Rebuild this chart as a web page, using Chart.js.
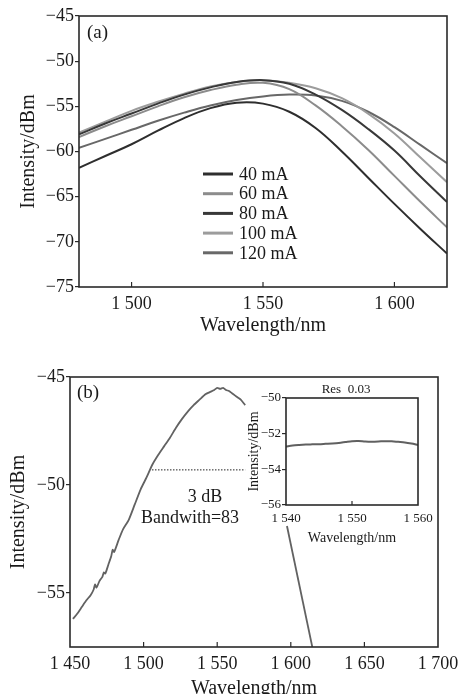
<!DOCTYPE html>
<html>
<head>
<meta charset="utf-8">
<script src="https://cdn.jsdelivr.net/npm/chart.js@4.4.1/dist/chart.umd.min.js"></script>
<style>
  html, body { margin: 0; padding: 0; background: #fff; overflow: hidden; }
  #wrap { position: relative; width: 460px; height: 694px; }
  canvas { position: absolute; left: 0; }
</style>
</head>
<body>
<div id="wrap">
  <canvas id="chartA" width="460" height="340" style="top:0"></canvas>
  <canvas id="chartB" width="460" height="364" style="top:340px"></canvas>
  <canvas id="inset" width="230" height="190" style="left:230px;top:370px"></canvas>
</div>
<script>
// (a) spectra for each drive current
var aWave   = [1480, 1490, 1500, 1510, 1520, 1530, 1540, 1550, 1560, 1570, 1580, 1590, 1600, 1610, 1620];
var a40mA   = [-61.8, -60.5, -59.2, -57.7, -56.3, -55.2, -54.6, -54.7, -55.6, -57.4, -60.0, -62.9, -65.8, -68.6, -71.3];
var a60mA   = [-58.4, -57.2, -56.1, -55.0, -54.0, -53.2, -52.6, -52.4, -53.1, -54.9, -57.2, -59.8, -62.7, -65.6, -68.4];
var a80mA   = [-58.1, -56.9, -55.8, -54.7, -53.7, -52.9, -52.3, -52.1, -52.5, -53.7, -55.4, -57.5, -59.9, -62.8, -65.6];
var a100mA  = [-57.9, -56.7, -55.5, -54.5, -53.6, -52.8, -52.3, -52.1, -52.4, -53.0, -54.1, -55.8, -58.0, -60.7, -63.4];
var a120mA  = [-59.6, -58.6, -57.6, -56.6, -55.7, -54.9, -54.3, -53.9, -53.7, -53.8, -54.4, -55.6, -57.3, -59.3, -61.3];
var aLabels = ['40 mA', '60 mA', '80 mA', '100 mA', '120 mA'];
var aXTicks = [1500, 1550, 1600];
var aYTicks = [-75, -70, -65, -60, -55, -50, -45];

// (b) broadband spectrum
var bWave  = [1452, 1455, 1458, 1461, 1464, 1466, 1467, 1468, 1470, 1472, 1473, 1474, 1476, 1478, 1479, 1480,
              1483, 1486, 1490, 1494, 1498, 1502, 1506, 1510, 1514, 1518, 1522, 1526, 1530, 1534, 1538, 1542,
              1545, 1548, 1550, 1552, 1554, 1556, 1558, 1560, 1562, 1564, 1566, 1569];
var bPower = [-56.2, -55.95, -55.65, -55.35, -55.1, -54.85, -54.6, -54.75, -54.45, -54.25, -54.05, -54.1, -53.7, -53.3, -53.0, -53.1,
              -52.55, -52.05, -51.6, -50.9, -50.2, -49.65, -49.05, -48.6, -48.2, -47.8, -47.35, -46.95, -46.6, -46.3, -46.05, -45.8,
              -45.7, -45.6, -45.5, -45.55, -45.5, -45.6, -45.65, -45.75, -45.85, -45.95, -46.05, -46.3];
var bTailWave  = [1597.4, 1614.6];
var bTailPower = [-51.9, -57.5];
var bDipWave   = [1505.7, 1569];
var bDipPower  = [-49.3, -49.3];
var bXTicks = [1450, 1500, 1550, 1600, 1650, 1700];
var bYTicks = [-55, -50, -45];

// inset, Res 0.03
var insetWave  = [1540, 1541, 1542, 1543, 1544, 1545, 1546, 1547, 1548, 1549, 1550, 1551, 1552, 1553, 1554, 1555, 1556, 1557, 1558, 1559, 1560];
var insetPower = [-52.72, -52.66, -52.63, -52.61, -52.6, -52.59, -52.57, -52.55, -52.52, -52.47, -52.42, -52.41, -52.44, -52.45, -52.44, -52.42, -52.43, -52.46, -52.49, -52.55, -52.63];
var insetXTicks = [1540, 1550, 1560];
var insetYTicks = [-56, -54, -52, -50];

var serif = "'Liberation Serif', 'Times New Roman', serif";
var ink = '#1a1a1a';

function fmt(v) {
  var s = Math.abs(v).toString();
  if (s.length > 3) s = s.slice(0, s.length - 3) + ' ' + s.slice(-3);
  return (v < 0 ? '\u2212' : '') + s;
}
function pts(xs, ys) {
  return xs.map(function (x, i) { return {x: x, y: ys[i]}; });
}

// box round the plot and inward ticks on the x axis
var frame = {
  id: 'frame',
  afterDatasetsDraw: function (chart, args, opts) {
    var ctx = chart.ctx, a = chart.chartArea, sx = chart.scales.x;
    ctx.save();
    ctx.strokeStyle = '#2a2a2a';
    ctx.lineWidth = opts.width;
    ctx.strokeRect(a.left, a.top, a.right - a.left, a.bottom - a.top);
    ctx.lineWidth = 1.2;
    sx.ticks.forEach(function (t) {
      var px = sx.getPixelForValue(t.value);
      if (px > a.left + 2 && px < a.right - 2) {
        ctx.beginPath();
        ctx.moveTo(px, a.bottom);
        ctx.lineTo(px, a.bottom - opts.tick);
        ctx.stroke();
      }
    });
    ctx.restore();
  }
};

// free text, offsets from the chart area corner
var notes = {
  id: 'notes',
  afterDraw: function (chart, args, opts) {
    var ctx = chart.ctx, a = chart.chartArea;
    ctx.save();
    ctx.fillStyle = ink;
    ctx.textBaseline = 'middle';
    opts.items.forEach(function (n) {
      ctx.font = n.size + 'px ' + serif;
      ctx.textAlign = n.align;
      ctx.fillText(n.text, a.left + n.dx, a.top + n.dy);
    });
    ctx.restore();
  }
};

var legendA = {
  id: 'legendA',
  afterDraw: function (chart) {
    var ctx = chart.ctx, a = chart.chartArea;
    ctx.save();
    ctx.font = '18px ' + serif;
    ctx.textBaseline = 'middle';
    ctx.textAlign = 'left';
    chart.data.datasets.forEach(function (ds, i) {
      var y = a.top + 158 + i * 19.7;
      ctx.strokeStyle = ds.borderColor;
      ctx.lineWidth = 3;
      ctx.beginPath();
      ctx.moveTo(a.left + 124, y);
      ctx.lineTo(a.left + 154, y);
      ctx.stroke();
      ctx.fillStyle = ink;
      ctx.fillText(ds.label, a.left + 160, y + 1);
    });
    ctx.restore();
  }
};

function xAxis(min, max, ticks, height, fontSize, pad, titleSize, titlePad) {
  return {
    type: 'linear', min: min, max: max,
    afterBuildTicks: function (s) { s.ticks = ticks.map(function (v) { return {value: v}; }); },
    afterFit: function (s) { s.height = height; s.paddingLeft = 0; s.paddingRight = 0; },
    grid: {display: false},
    border: {display: false},
    ticks: {callback: fmt, font: {family: serif, size: fontSize}, color: ink, padding: pad, maxRotation: 0, autoSkip: false},
    title: {display: true, text: 'Wavelength/nm', font: {family: serif, size: titleSize}, color: ink, padding: {top: 0, bottom: titlePad}}
  };
}
function yAxis(min, max, ticks, width, fontSize, titleSize, titlePad) {
  return {
    min: min, max: max,
    afterBuildTicks: function (s) { s.ticks = ticks.map(function (v) { return {value: v}; }); },
    afterFit: function (s) { s.width = width; s.paddingTop = 0; s.paddingBottom = 0; },
    grid: {display: true, drawOnChartArea: false, tickLength: 4, color: '#2a2a2a', lineWidth: 1.2},
    border: {display: false},
    ticks: {callback: fmt, font: {family: serif, size: fontSize}, color: ink, padding: 1, autoSkip: false},
    title: {display: true, text: 'Intensity/dBm', font: {family: serif, size: titleSize}, color: ink, padding: {top: titlePad, bottom: 0}}
  };
}

var aColors = ['#2e2e2e', '#8c8c8c', '#383838', '#9c9c9c', '#686868'];
var aSeries = [a40mA, a60mA, a80mA, a100mA, a120mA];

new Chart(document.getElementById('chartA'), {
  type: 'line',
  data: {
    datasets: aSeries.map(function (s, i) {
      return {label: aLabels[i], data: pts(aWave, s), borderColor: aColors[i], borderWidth: 2, pointRadius: 0, tension: 0.4, fill: false};
    })
  },
  options: {
    responsive: false, animation: false, devicePixelRatio: 1,
    layout: {padding: {left: 0, top: 16, right: 13, bottom: 0}},
    plugins: {
      legend: {display: false}, tooltip: {enabled: false},
      frame: {width: 1.6, tick: 5},
      notes: {items: [{text: '(a)', size: 19, align: 'left', dx: 8, dy: 17}]}
    },
    scales: {
      x: xAxis(1480, 1620, aXTicks, 53, 18, -2, 20, 2),
      y: yAxis(-75, -45, aYTicks, 79, 18, 20, 17)
    }
  },
  plugins: [frame, notes, legendA]
});

new Chart(document.getElementById('chartB'), {
  type: 'line',
  data: {
    datasets: [
      {data: pts(bWave, bPower), borderColor: '#626262', borderWidth: 1.8, pointRadius: 0, tension: 0.2},
      {data: pts(bTailWave, bTailPower), borderColor: '#626262', borderWidth: 1.8, pointRadius: 0},
      {data: pts(bDipWave, bDipPower), borderColor: '#222', borderWidth: 1, borderDash: [1.5, 1.5], pointRadius: 0}
    ]
  },
  options: {
    responsive: false, animation: false, devicePixelRatio: 1,
    layout: {padding: {left: 0, top: 37, right: 22, bottom: 0}},
    plugins: {
      legend: {display: false}, tooltip: {enabled: false},
      frame: {width: 1.6, tick: 5},
      notes: {items: [
        {text: '(b)', size: 19, align: 'left', dx: 7, dy: 16},
        {text: '3 dB', size: 18, align: 'center', dx: 135, dy: 120},
        {text: 'Bandwith=83', size: 18, align: 'center', dx: 120, dy: 141}
      ]}
    },
    scales: {
      x: xAxis(1450, 1700, bXTicks, 57, 18, -2, 20, 3),
      y: yAxis(-57.5, -45, bYTicks, 70, 18, 20, 7)
    }
  },
  plugins: [frame, notes]
});

new Chart(document.getElementById('inset'), {
  type: 'line',
  data: {
    datasets: [
      {data: pts(insetWave, insetPower), borderColor: '#606060', borderWidth: 2, pointRadius: 0, tension: 0.3}
    ]
  },
  options: {
    responsive: false, animation: false, devicePixelRatio: 1,
    layout: {padding: {left: 0, top: 28, right: 42, bottom: 0}},
    plugins: {
      legend: {display: false}, tooltip: {enabled: false},
      frame: {width: 1.6, tick: 4},
      notes: {items: [{text: 'Res  0.03', size: 13, align: 'center', dx: 60, dy: -8}]}
    },
    scales: {
      x: xAxis(1540, 1560, insetXTicks, 55, 13, -2, 14, 13),
      y: yAxis(-56, -50, insetYTicks, 56, 13, 14, 15.5)
    }
  },
  plugins: [frame, notes]
});
</script>
</body>
</html>
